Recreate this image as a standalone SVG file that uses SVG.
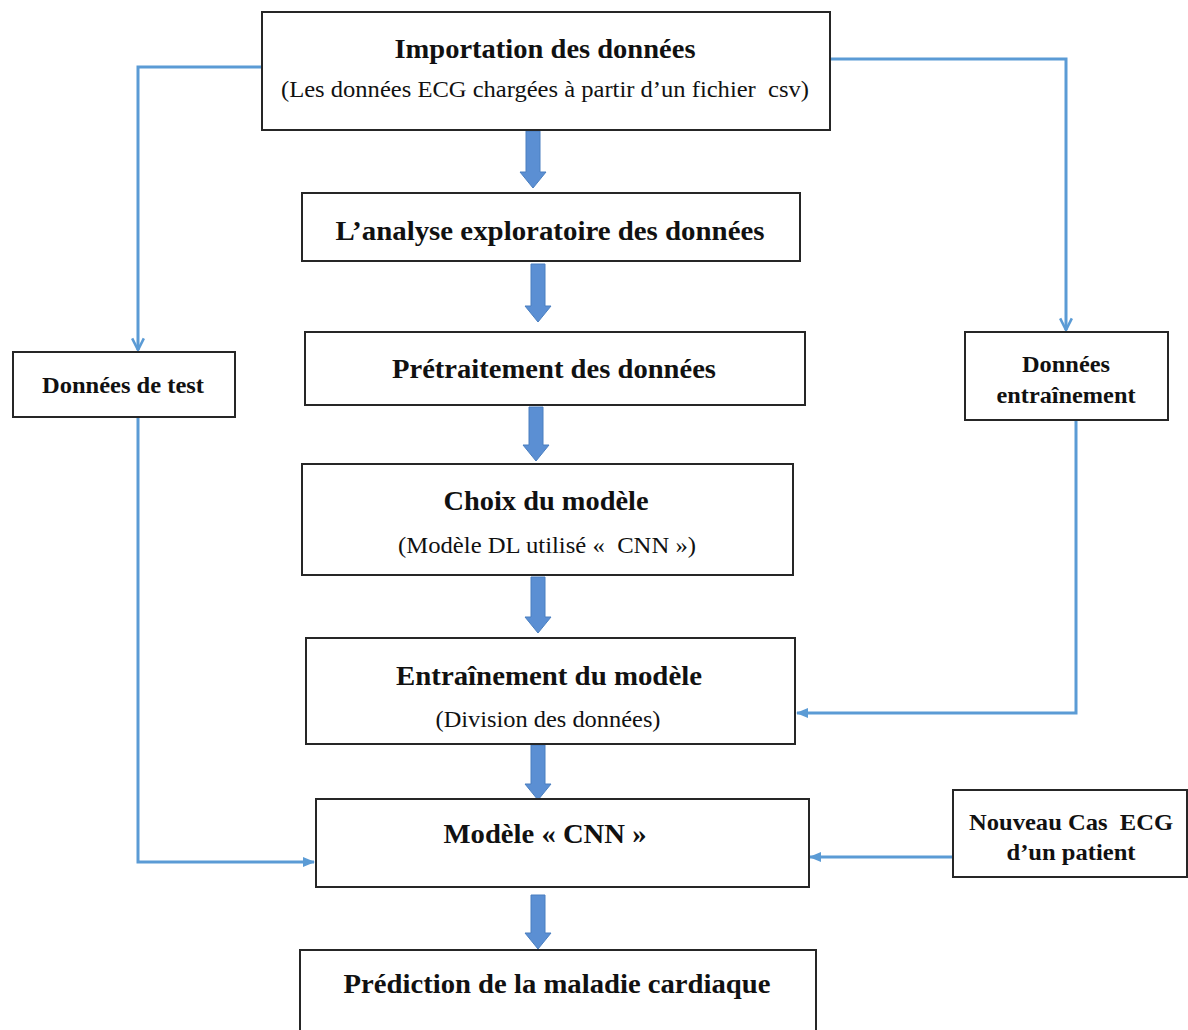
<svg xmlns="http://www.w3.org/2000/svg" width="1188" height="1030" viewBox="0 0 1188 1030">
  <style>
    .box { fill: #ffffff; stroke: #262626; stroke-width: 2; }
    .t { font-family: 'Liberation Serif', 'DejaVu Serif', serif; fill: #111111; text-anchor: middle; white-space: pre; }
    .b { font-weight: bold; font-size: 28px; }
    .bs { font-weight: bold; font-size: 24px; }
    .n { font-size: 24px; }
    .link { fill: none; stroke: #5b9bd5; stroke-width: 3; }
    .flow { fill: #5b8fd3; stroke: #4a7fc0; stroke-width: 1; }
  </style>
  <defs>
    <marker id="chev" viewBox="0 0 12 12" refX="11" refY="6" markerWidth="14" markerHeight="14" markerUnits="userSpaceOnUse" orient="auto">
      <path d="M1,1 L11,6 L1,11" fill="none" stroke="#5b9bd5" stroke-width="2.2"/>
    </marker>
    <marker id="tri" viewBox="0 0 12 12" refX="11" refY="6" markerWidth="12" markerHeight="12" markerUnits="userSpaceOnUse" orient="auto">
      <path d="M0,1 L12,6 L0,11 Z" fill="#5b9bd5"/>
    </marker>
  </defs>
  <rect width="1188" height="1030" fill="#ffffff"/>

  <!-- connectors -->
  <g id="connectors">
    <path class="link" d="M262,67 H138 V350" marker-end="url(#chev)"/>
    <path class="link" d="M138,417 V862 H314" marker-end="url(#tri)"/>
    <path class="link" d="M830,59 H1066 V330" marker-end="url(#chev)"/>
    <path class="link" d="M1076,421 V713 H797" marker-end="url(#tri)"/>
    <path class="link" d="M953,857 H810" marker-end="url(#tri)"/>
    <!-- main flow block arrows -->
    <path class="flow" d="M526,131 H540 V172 H546 L533,188 L520,172 H526 Z"/>
    <path class="flow" d="M531,264 H545 V306 H551 L538,322 L525,306 H531 Z"/>
    <path class="flow" d="M529,407 H543 V445 H549 L536,461 L523,445 H529 Z"/>
    <path class="flow" d="M531,577 H545 V617 H551 L538,633 L525,617 H531 Z"/>
    <path class="flow" d="M531,745 H545 V784 H551 L538,800 L525,784 H531 Z"/>
    <path class="flow" d="M531,895 H545 V933 H551 L538,949 L525,933 H531 Z"/>
  </g>

  <g id="import">
    <rect class="box" x="262" y="12" width="568" height="118"/>
    <text class="t b" x="545" y="58" textLength="301" lengthAdjust="spacingAndGlyphs">Importation des données</text>
    <text class="t n" x="545" y="97" textLength="528" lengthAdjust="spacingAndGlyphs" xml:space="preserve">(Les données ECG chargées à partir d’un fichier  csv)</text>
  </g>

  <g id="analyse">
    <rect class="box" x="302" y="193" width="498" height="68"/>
    <text class="t b" x="550" y="240" textLength="429" lengthAdjust="spacingAndGlyphs">L’analyse exploratoire des données</text>
  </g>

  <g id="pretraitement">
    <rect class="box" x="305" y="332" width="500" height="73"/>
    <text class="t b" x="554" y="378" textLength="324" lengthAdjust="spacingAndGlyphs">Prétraitement des données</text>
  </g>

  <g id="choix">
    <rect class="box" x="302" y="464" width="491" height="111"/>
    <text class="t b" x="546" y="510" textLength="205" lengthAdjust="spacingAndGlyphs">Choix du modèle</text>
    <text class="t n" x="547" y="553" textLength="298" lengthAdjust="spacingAndGlyphs" xml:space="preserve">(Modèle DL utilisé «  CNN »)</text>
  </g>

  <g id="entrainement">
    <rect class="box" x="306" y="638" width="489" height="106"/>
    <text class="t b" x="549" y="685" textLength="306" lengthAdjust="spacingAndGlyphs">Entraînement du modèle</text>
    <text class="t n" x="548" y="727" textLength="225" lengthAdjust="spacingAndGlyphs">(Division des données)</text>
  </g>

  <g id="modele-cnn">
    <rect class="box" x="316" y="799" width="493" height="88"/>
    <text class="t b" x="545" y="843" textLength="203" lengthAdjust="spacingAndGlyphs">Modèle « CNN »</text>
  </g>

  <g id="prediction">
    <rect class="box" x="300" y="950" width="516" height="90"/>
    <text class="t b" x="557" y="993" textLength="427" lengthAdjust="spacingAndGlyphs">Prédiction de la maladie cardiaque</text>
  </g>

  <g id="donnees-test">
    <rect class="box" x="13" y="352" width="222" height="65"/>
    <text class="t bs" x="123" y="393" textLength="162" lengthAdjust="spacingAndGlyphs">Données de test</text>
  </g>

  <g id="donnees-entrainement">
    <rect class="box" x="965" y="332" width="203" height="88"/>
    <text class="t bs" x="1066" y="372" textLength="88" lengthAdjust="spacingAndGlyphs">Données</text>
    <text class="t bs" x="1066" y="403" textLength="139" lengthAdjust="spacingAndGlyphs">entraînement</text>
  </g>

  <g id="nouveau-cas">
    <rect class="box" x="953" y="790" width="234" height="87"/>
    <text class="t bs" x="1071" y="830" textLength="204" lengthAdjust="spacingAndGlyphs" xml:space="preserve">Nouveau Cas  ECG</text>
    <text class="t bs" x="1071" y="860" textLength="129" lengthAdjust="spacingAndGlyphs">d’un patient</text>
  </g>
</svg>
